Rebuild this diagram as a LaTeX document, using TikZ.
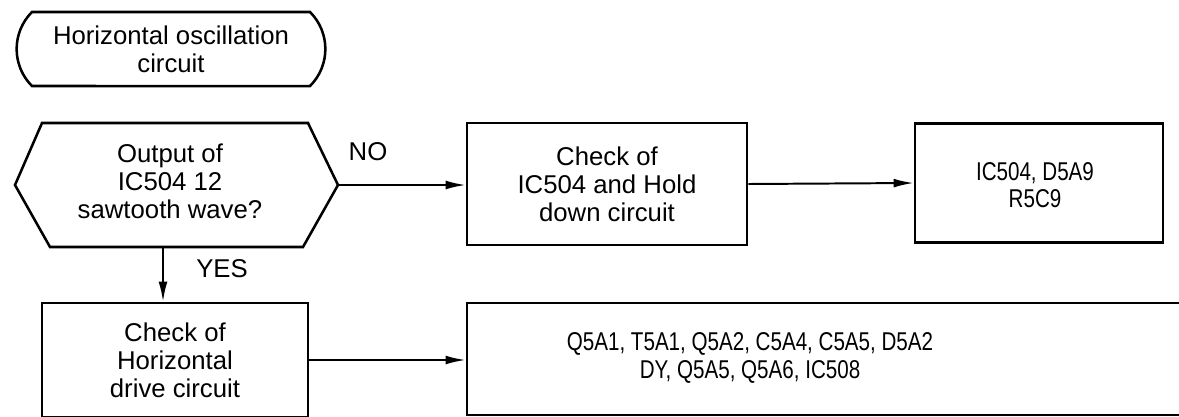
\documentclass[tikz,border=0pt]{standalone}
\usepackage{fontspec}
\setmainfont{Liberation Sans}
\newfontfamily\partsfont{Liberation Sans}[FakeStretch=0.8]
\usetikzlibrary{positioning}
\usetikzlibrary{calc}
\usetikzlibrary{arrows.meta}
\usetikzlibrary{shapes.misc}

\tikzset{
    box/.style={draw, line width=1.8pt, align=center},
    flow/.style={line width=1.4pt, -{Latex[length=5mm, width=2.2mm]}},
    parts/.style={align=center, font=\partsfont\fontsize{18.3}{19.5}\selectfont}
}

\begin{document}
\begin{tikzpicture}[x=0.025cm, y=-0.025cm, every node/.style={font=\fontsize{18.3}{20}\selectfont}]
    \useasboundingbox (0,0) rectangle (1179,416);
    % start
    \node[draw, line width=1.8pt, rounded rectangle, rounded rectangle arc length=90,
          minimum width=7.95cm, minimum height=1.85cm, align=center] (start) at (171,49)
          {Horizontal oscillation\\circuit};
    % decision
    \draw[line width=1.8pt] (42,123) -- (308,123) -- (338,185) -- (303,247)
        -- (50,247) -- (15,185) -- cycle;
    \coordinate (decide-e) at (338,185);
    \coordinate (decide-s) at (163,247);
    \node[align=center] (decide) at (170,181) {Output of\\IC504 12\\sawtooth wave?};
    % boxes
    \node[box, minimum width=7cm, minimum height=3.05cm] (chkhold) at (607,184)
        {Check of\\IC504 and Hold\\down circuit};
    \node[box, minimum width=6.2cm, minimum height=2.98cm] (parts1) at (1039,183) {};
    \node[parts] (parts1txt) at (1035,185) {IC504, D5A9\\R5C9};
    \node[box, minimum width=6.65cm, minimum height=2.85cm] (chkdrive) at (175,360)
        {Check of\\Horizontal\\drive circuit};
    \node[box, minimum width=18.3cm, minimum height=2.8cm] (parts2) at (833,359) {};
    \node[parts] (parts2txt) at (750,358)
        {Q5A1, T5A1, Q5A2, C5A4, C5A5, D5A2\\DY, Q5A5, Q5A6, IC508};
    % connectors
    \draw[flow] (decide-e) -- (decide-e -| chkhold.west);
    \draw[flow] (chkhold.east) -- (parts1.west);
    \draw[flow] (decide-s) -- (decide-s |- chkdrive.north);
    \draw[flow] (chkdrive.east) -- (chkdrive.east -| parts2.west);
    \node (no) at (368,152) {NO};
    \node (yes) at (222,269) {YES};
\end{tikzpicture}
\end{document}
